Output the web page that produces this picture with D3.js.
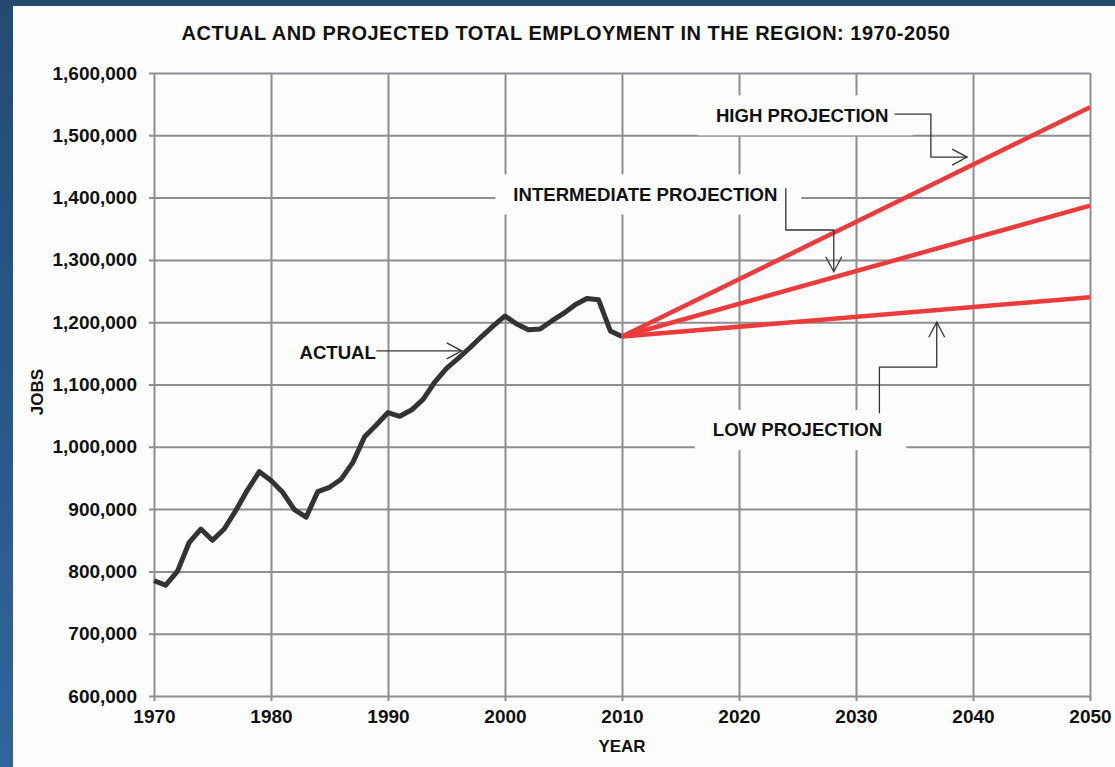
<!DOCTYPE html>
<html>
<head>
<meta charset="utf-8">
<script src="https://cdn.jsdelivr.net/npm/d3@7"></script>
<style>
  body { margin: 0; padding: 0; overflow: hidden; }
  text { font-family: "Liberation Sans", Arial, sans-serif; font-weight: bold; fill: #111; }
</style>
</head>
<body>
<script>

// actual employment, one value per year
var years = [1970, 1971, 1972, 1973, 1974, 1975, 1976, 1977, 1978, 1979,
             1980, 1981, 1982, 1983, 1984, 1985, 1986, 1987, 1988, 1989,
             1990, 1991, 1992, 1993, 1994, 1995, 1996, 1997, 1998, 1999,
             2000, 2001, 2002, 2003, 2004, 2005, 2006, 2007, 2008, 2009, 2010]
var actualJobs = [785000, 778000, 800000, 846000, 868000, 850000, 868000, 898000, 931000, 960000,
                  946000, 927000, 899000, 887000, 928000, 935000, 948000, 975000, 1016000, 1035000,
                  1055000, 1049000, 1059000, 1076000, 1104000, 1126000, 1142000, 1159000, 1177000, 1194000,
                  1210000, 1197000, 1188000, 1189000, 1202000, 1214000, 1228000, 1238000, 1236000, 1186000, 1177000]

// projections
var projYears = [2010, 2050]
var highProj = [1177000, 1545000]
var interProj = [1177000, 1387000]
var lowProj = [1177000, 1240000]

var yearTicks = [1970, 1980, 1990, 2000, 2010, 2020, 2030, 2040, 2050]
var jobTicks = [600000, 700000, 800000, 900000, 1000000, 1100000, 1200000, 1300000, 1400000, 1500000, 1600000]

// annotation labels and their elbow arrows (year, jobs)
var labelNames = ["HIGH PROJECTION", "INTERMEDIATE PROJECTION", "LOW PROJECTION", "ACTUAL"]
var labelAt = [[2025.4, 1532000], [2012.0, 1405000], [2025.0, 1027000], [1985.7, 1151000]]
var labelBox = [true, true, true, false]
var arrowPaths = [
  [[2033.3, 1534000], [2036.4, 1534000], [2036.4, 1465000], [2039.5, 1465000]],
  [[2024.0, 1415000], [2024.0, 1348000], [2028.1, 1348000], [2028.1, 1281000]],
  [[2032.0, 1054000], [2032.0, 1128000], [2036.9, 1128000], [2036.9, 1200000]],
  [[1989.0, 1154000], [1996.3, 1154000]]
]

var W = 1115, H = 767
var plotLeft = 154, plotRight = 1090, plotTop = 73, plotBottom = 696

var svg = d3.select("body")
  .append("svg")
    .attr("width", W)
    .attr("height", H)

/******** background *********/
var grad = svg.append("defs").append("linearGradient")
    .attr("id", "side")
    .attr("x1", 0).attr("y1", 0).attr("x2", 0).attr("y2", 1)
grad.append("stop").attr("offset", "0%").attr("stop-color", "#244a71")
grad.append("stop").attr("offset", "100%").attr("stop-color", "#2f659b")

svg.append("rect").attr("width", W).attr("height", H).attr("fill", "url(#side)")
svg.append("rect").attr("width", W).attr("height", 6).attr("fill", "#244a71")
svg.append("rect")
    .attr("x", 13).attr("y", 6)
    .attr("width", W - 13).attr("height", H - 6)
    .attr("fill", "#fdfdfd")

/******** scales *********/
var x = d3.scaleLinear().domain([1970, 2050]).range([plotLeft, plotRight])
var y = d3.scaleLinear().domain([600000, 1600000]).range([plotBottom, plotTop])

/******** grid + axes *********/
var gridColor = "#8e8e92"

var yAxis = svg.append("g")
    .attr("transform", "translate(" + plotLeft + ",0)")
    .call(d3.axisLeft(y).tickValues(jobTicks).tickFormat(d3.format(",")).tickSizeInner(-(plotRight - plotLeft)).tickSizeOuter(0).tickPadding(17))
yAxis.select(".domain").remove()
yAxis.selectAll(".tick line").attr("stroke", gridColor).attr("stroke-width", 2).attr("x1", -5)
yAxis.selectAll(".tick text").attr("font-size", "19px").attr("fill", "#111")

var xAxis = svg.append("g")
    .attr("transform", "translate(0," + plotBottom + ")")
    .call(d3.axisBottom(x).tickValues(yearTicks).tickFormat(d3.format("d")).tickSizeInner(-(plotBottom - plotTop)).tickSizeOuter(0).tickPadding(14))
xAxis.select(".domain").remove()
xAxis.selectAll(".tick line").attr("stroke", gridColor).attr("stroke-width", 2).attr("y1", 5)
xAxis.selectAll(".tick text").attr("font-size", "19px").attr("fill", "#111")

/******** titles *********/
svg.append("text")
    .attr("x", 566).attr("y", 40)
    .attr("text-anchor", "middle")
    .attr("font-size", "20px")
    .attr("letter-spacing", "0.5px")
    .text("ACTUAL AND PROJECTED TOTAL EMPLOYMENT IN THE REGION: 1970-2050")

svg.append("text")
    .attr("transform", "translate(43,392) rotate(-90)")
    .attr("text-anchor", "middle")
    .attr("font-size", "17px")
    .text("JOBS")

svg.append("text")
    .attr("x", 622).attr("y", 752)
    .attr("text-anchor", "middle")
    .attr("font-size", "17px")
    .text("YEAR")

/******** label boxes (cover the grid) *********/
var labels = svg.append("g")
labelNames.forEach(function(name, i){
  var t = labels.append("text")
      .attr("x", x(labelAt[i][0]))
      .attr("y", y(labelAt[i][1]))
      .attr("dy", "0.35em")
      .attr("text-anchor", "middle")
      .attr("font-size", "18.6px")
      .text(name)
  if (labelBox[i]) {
    var b = t.node().getBBox()
    labels.insert("rect", "text")
        .attr("x", b.x - 18).attr("y", y(labelAt[i][1]) - 20)
        .attr("width", b.width + 42).attr("height", 40)
        .attr("fill", "#fdfdfd")
  }
})

/******** lines *********/
var line = d3.line()
  .x(function(d){ return x(d[0]) })
  .y(function(d){ return y(d[1]) })

svg.append("path")
    .attr("d", line(years.map(function(yr, i){ return [yr, actualJobs[i]] })))
    .attr("fill", "none")
    .attr("stroke", "#333333")
    .attr("stroke-width", 5)
    .attr("stroke-linejoin", "round")

;[highProj, interProj, lowProj].forEach(function(s){
  svg.append("path")
      .attr("d", line(projYears.map(function(yr, i){ return [yr, s[i]] })))
      .attr("fill", "none")
      .attr("stroke", "#eb3b3b")
      .attr("stroke-width", 4.5)
})

/******** arrows *********/
arrowPaths.forEach(function(pts){
  var p = pts.map(function(d){ return [x(d[0]), y(d[1])] })
  svg.append("path")
      .attr("d", d3.line()(p))
      .attr("fill", "none")
      .attr("stroke", "#333")
      .attr("stroke-width", 1.3)
  // open arrow head at the last point
  var a = p[p.length - 2], b = p[p.length - 1]
  var ang = Math.atan2(b[1] - a[1], b[0] - a[0])
  var len = 15, half = 8
  var bx = b[0] - len * Math.cos(ang), by = b[1] - len * Math.sin(ang)
  var h1 = [bx + half * Math.sin(ang), by - half * Math.cos(ang)]
  var h2 = [bx - half * Math.sin(ang), by + half * Math.cos(ang)]
  svg.append("path")
      .attr("d", d3.line()([h1, b, h2]))
      .attr("fill", "none")
      .attr("stroke", "#333")
      .attr("stroke-width", 1.3)
})

</script>
</body>
</html>
